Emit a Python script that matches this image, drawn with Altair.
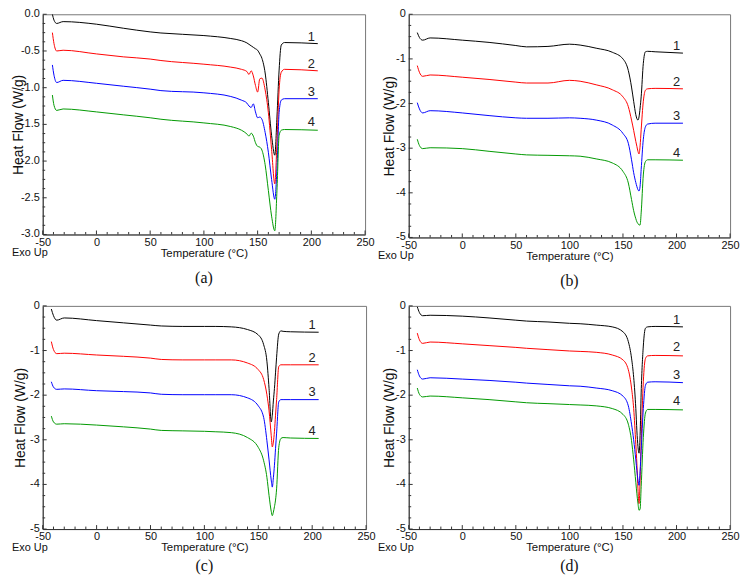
import altair as alt
import pandas as pd

# ---------------- data ----------------
CURVES = ["1", "2", "3", "4"]
COLORS = ["#000000", "#ff0000", "#0000ff", "#009900"]

X_MAJOR = [-50, 0, 50, 100, 150, 200, 250]
X_MINOR = [v for v in range(-50, 251, 10) if v % 50 != 0]

# panel (a)
T_A = [-41, -39.5, -37, -31, 0, 25, 50, 60, 100, 125, 135, 140, 142, 144,
       146, 148, 150, 152, 154, 157, 160, 163, 166, 168, 170, 172, 175, 206]
A1 = [0.0, -0.08, -0.125, -0.10, -0.135, -0.19, -0.24, -0.255, -0.29, -0.33, -0.36, -0.39, -0.41, -0.43,
      -0.45, -0.47, -0.49, -0.54, -0.60, -0.80, -1.20, -1.65, -1.92, -1.40, -0.76, -0.42, -0.385, -0.40]
A2 = [-0.25, -0.40, -0.50, -0.49, -0.54, -0.58, -0.61, -0.63, -0.68, -0.72, -0.75, -0.78, -0.82, -0.77,
      -0.84, -0.97, -1.06, -0.88, -0.87, -1.03, -1.34, -1.84, -2.31, -1.75, -1.03, -0.79, -0.75, -0.77]
A3 = [-0.69, -0.83, -0.93, -0.90, -0.94, -0.98, -1.02, -1.04, -1.07, -1.12, -1.17, -1.21, -1.25, -1.27,
      -1.22, -1.33, -1.41, -1.40, -1.43, -1.61, -1.88, -2.25, -2.52, -2.10, -1.34, -1.17, -1.15, -1.15]
A4 = [-1.10, -1.24, -1.31, -1.29, -1.33, -1.37, -1.41, -1.43, -1.48, -1.53, -1.58, -1.63, -1.66, -1.62,
      -1.66, -1.75, -1.80, -1.81, -1.85, -2.05, -2.40, -2.75, -2.95, -2.40, -1.65, -1.58, -1.57, -1.58]
A_LBL = [-0.31, -0.68, -1.06, -1.47]

# panels (b), (c), (d) share one temperature grid
T_G = [-42, -40, -37, -30, 0, 25, 50, 60, 80, 100, 110, 125, 140, 150,
       155, 158, 160, 162, 163, 164, 165, 166, 167, 169, 171, 173, 180, 206]
B1 = [-0.41, -0.52, -0.58, -0.53, -0.58, -0.63, -0.70, -0.73, -0.72, -0.67, -0.69, -0.76, -0.85, -1.00,
      -1.26, -1.63, -1.95, -2.25, -2.34, -2.37, -2.30, -2.10, -1.85, -1.10, -0.84, -0.83, -0.84, -0.87]
B2 = [-1.15, -1.30, -1.39, -1.36, -1.41, -1.46, -1.52, -1.54, -1.54, -1.48, -1.50, -1.58, -1.69, -1.85,
      -2.07, -2.37, -2.60, -2.85, -2.96, -3.07, -3.13, -2.95, -2.59, -1.95, -1.70, -1.67, -1.66, -1.67]
B3 = [-1.98, -2.12, -2.21, -2.16, -2.21, -2.27, -2.32, -2.33, -2.33, -2.32, -2.33, -2.37, -2.48, -2.67,
      -2.89, -3.26, -3.55, -3.77, -3.86, -3.93, -3.96, -3.85, -3.48, -2.80, -2.52, -2.46, -2.44, -2.44]
B4 = [-2.80, -2.94, -3.01, -2.99, -3.01, -3.07, -3.13, -3.15, -3.16, -3.17, -3.18, -3.24, -3.33, -3.52,
      -3.78, -4.15, -4.40, -4.58, -4.65, -4.69, -4.72, -4.72, -4.45, -3.60, -3.30, -3.26, -3.26, -3.27]
B_LBL = [-0.72, -1.52, -2.28, -3.10]

C1 = [-0.07, -0.22, -0.32, -0.27, -0.33, -0.38, -0.43, -0.45, -0.46, -0.46, -0.46, -0.47, -0.53, -0.65,
      -0.87, -1.24, -1.85, -2.60, -2.45, -2.13, -1.85, -1.50, -1.15, -0.63, -0.56, -0.57, -0.58, -0.59]
C2 = [-0.80, -0.98, -1.07, -1.06, -1.10, -1.13, -1.17, -1.20, -1.21, -1.21, -1.21, -1.21, -1.28, -1.43,
      -1.65, -1.99, -2.35, -2.90, -3.16, -3.05, -2.81, -2.45, -2.10, -1.36, -1.32, -1.32, -1.32, -1.32]
C3 = [-1.70, -1.82, -1.87, -1.86, -1.90, -1.92, -1.95, -1.98, -1.99, -1.99, -1.99, -1.99, -2.06, -2.24,
      -2.50, -3.02, -3.45, -3.90, -4.06, -3.85, -3.57, -3.20, -2.85, -2.15, -2.10, -2.10, -2.10, -2.10]
C4 = [-2.47, -2.60, -2.65, -2.64, -2.67, -2.71, -2.76, -2.79, -2.80, -2.81, -2.82, -2.84, -2.95, -3.17,
      -3.47, -3.84, -4.25, -4.60, -4.70, -4.62, -4.50, -4.35, -4.10, -3.17, -2.97, -2.95, -2.96, -2.97]
C_LBL = [-0.43, -1.16, -1.93, -2.81]

D1 = [-0.02, -0.15, -0.22, -0.21, -0.23, -0.27, -0.32, -0.34, -0.36, -0.39, -0.40, -0.43, -0.47, -0.58,
      -0.80, -1.17, -1.60, -2.30, -2.80, -3.15, -3.30, -2.90, -1.95, -0.90, -0.50, -0.47, -0.46, -0.47]
D2 = [-0.61, -0.76, -0.84, -0.81, -0.85, -0.89, -0.93, -0.95, -0.98, -1.01, -1.02, -1.04, -1.10, -1.21,
      -1.43, -1.84, -2.30, -3.10, -3.54, -4.10, -4.43, -3.90, -3.05, -1.70, -1.18, -1.12, -1.11, -1.12]
D3 = [-1.43, -1.57, -1.64, -1.61, -1.64, -1.67, -1.71, -1.73, -1.76, -1.79, -1.80, -1.84, -1.90, -2.02,
      -2.24, -2.65, -3.00, -3.45, -3.69, -3.90, -4.02, -3.70, -3.24, -2.30, -1.78, -1.71, -1.70, -1.72]
D4 = [-1.84, -1.98, -2.04, -2.02, -2.06, -2.10, -2.15, -2.17, -2.19, -2.21, -2.22, -2.24, -2.30, -2.43,
      -2.65, -3.02, -3.45, -3.95, -4.21, -4.42, -4.58, -4.55, -4.05, -2.95, -2.40, -2.32, -2.32, -2.33]
D_LBL = [-0.32, -0.93, -1.54, -2.13]

LABEL_T = 200

Y_MAJOR_A = [-3.0, -2.5, -2.0, -1.5, -1.0, -0.5, 0.0]
Y_TEXT_A = ["-3.0", "-2.5", "-2.0", "-1.5", "-1.0", "-0.5", "0.0"]
Y_MINOR_A = [-2.875, -2.75, -2.625, -2.375, -2.25, -2.125, -1.875, -1.75, -1.625,
             -1.375, -1.25, -1.125, -0.875, -0.75, -0.625, -0.375, -0.25, -0.125]
Y_MAJOR_B = [-5, -4, -3, -2, -1, 0]
Y_TEXT_B = ["-5", "-4", "-3", "-2", "-1", "0"]
Y_MINOR_B = [-4.75, -4.5, -4.25, -3.75, -3.5, -3.25, -2.75, -2.5, -2.25,
             -1.75, -1.5, -1.25, -0.75, -0.5, -0.25]

FONT = "Liberation Sans"


def panel(T, series, lbl, ydom, ymajor, ytext, yminor, caption, W, H, tx, cap_off):
    df = pd.DataFrame([{"T": t, "HF": v, "curve": CURVES[k]}
                       for k, ys in enumerate(series) for t, v in zip(T, ys)])
    xsc = alt.Scale(domain=[-50, 250], nice=False, zero=False)
    ysc = alt.Scale(domain=ydom, nice=False, zero=False)
    xax = alt.Axis(values=X_MAJOR, title="Temperature (°C)", titleY=19,
                   titleBaseline="middle", labelFlush=False, labelOverlap=False,
                   labelExpr="replace(datum.label, '\u2212', '-')")
    yax = alt.Axis(values=ymajor, labels=False, title="Heat Flow (W/g)",
                   titleX=tx, titleBaseline="middle", titleFontSize=14)
    lines = alt.Chart(df).mark_line(strokeWidth=1, interpolate="monotone", clip=True).encode(
        x=alt.X("T:Q", scale=xsc, axis=xax),
        y=alt.Y("HF:Q", scale=ysc, axis=yax),
        color=alt.Color("curve:N", scale=alt.Scale(domain=CURVES, range=COLORS), legend=None),
    )
    xmaj = alt.Chart(pd.DataFrame({"T": X_MAJOR})).mark_rule(color="#333", strokeWidth=1).encode(
        x="T:Q", y=alt.value(H), y2=alt.value(H - 4))
    xmin = alt.Chart(pd.DataFrame({"T": X_MINOR})).mark_rule(color="#333", strokeWidth=1).encode(
        x="T:Q", y=alt.value(H), y2=alt.value(H - 2.5))
    ymaj = alt.Chart(pd.DataFrame({"HF": ymajor})).mark_rule(color="#333", strokeWidth=1).encode(
        y="HF:Q", x=alt.value(0), x2=alt.value(4))
    ymin = alt.Chart(pd.DataFrame({"HF": yminor})).mark_rule(color="#333", strokeWidth=1).encode(
        y="HF:Q", x=alt.value(0), x2=alt.value(2.5))
    ylab = alt.Chart(pd.DataFrame({"HF": ymajor, "txt": ytext})).mark_text(
        align="right", baseline="middle", fontSize=11, color="#111", font=FONT).encode(
        y="HF:Q", x=alt.value(-3), text="txt:N")
    labels = alt.Chart(pd.DataFrame({"T": [LABEL_T] * 4, "HF": lbl, "txt": CURVES})).mark_text(
        fontSize=13, color="#222", baseline="middle", font=FONT).encode(
        x="T:Q", y="HF:Q", text="txt:N")
    exo = alt.Chart(pd.DataFrame({"txt": ["Exo Up"]})).mark_text(
        align="left", baseline="middle", fontSize=11, color="#111", font=FONT).encode(
        x=alt.value(-31), y=alt.value(H + 19), text="txt:N")
    return alt.layer(lines, xmaj, xmin, ymaj, ymin, ylab, labels, exo).properties(
        width=W, height=H,
        title=alt.TitleParams(caption, orient="bottom", offset=cap_off, anchor="middle"))


pa = panel(T_A, [A1, A2, A3, A4], A_LBL, [-3, 0], Y_MAJOR_A, Y_TEXT_A, Y_MINOR_A, "(a)", 325, 222, -24, 11)
pb = panel(T_G, [B1, B2, B3, B4], B_LBL, [-5, 0], Y_MAJOR_B, Y_TEXT_B, Y_MINOR_B, "(b)", 324, 225, -19, 11)
pc = panel(T_G, [C1, C2, C3, C4], C_LBL, [-5, 0], Y_MAJOR_B, Y_TEXT_B, Y_MINOR_B, "(c)", 326, 225, -22, 5)
pd_ = panel(T_G, [D1, D2, D3, D4], D_LBL, [-5, 0], Y_MAJOR_B, Y_TEXT_B, Y_MINOR_B, "(d)", 324, 225, -19, 5)

chart = alt.concat(pa, pb, pc, pd_, columns=2, bounds="flush",
                   spacing=alt.RowColnumber(row=69, column=43)).properties(
    padding={"left": 3, "top": -3, "right": 0, "bottom": 0}
).configure(font=FONT).configure_axis(
    labelFontSize=11, labelColor="#111", titleFontSize=11.5, titleFontWeight="normal",
    titleColor="#111", domainColor="#333", grid=False, ticks=False, labelPadding=2,
    labelFont=FONT, titleFont=FONT
).configure_view(stroke="#777").configure_title(
    font="Liberation Serif", fontSize=16, fontWeight="normal", color="#111")

chart.save("out.html", embed_options={"renderer": "svg", "actions": False})
